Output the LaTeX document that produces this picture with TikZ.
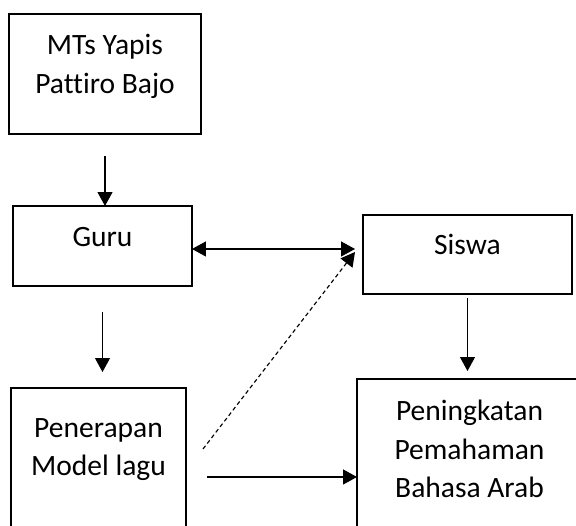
\documentclass[tikz,border=0pt]{standalone}
\usepackage{fontspec}
\setmainfont{Carlito}[Ligatures=CommonOff]
\usetikzlibrary{arrows.meta}

\begin{document}
\begin{tikzpicture}[x=0.02cm, y=-0.02cm, >={Triangle[length=0.28cm, width=0.3cm]},
	box/.style={draw, line width=1.1pt, inner sep=0pt, outer sep=0pt},
	lbl/.style={anchor=north, inner sep=0pt, align=center, font=\fontsize{16.8}{21.9}\selectfont},
	link/.style={->, line width=0.65pt}]
	% page, the lower boxes run off its edges
	\clip (0, 0) rectangle (576, 526);

	% boxes
	\node[box, minimum width=3.84cm, minimum height=2.4cm]  (mts)   at (105, 74)    {};
	\node[box, minimum width=3.58cm, minimum height=1.6cm]  (guru)  at (102.5, 246) {};
	\node[box, minimum width=4.18cm, minimum height=1.58cm] (siswa) at (467.5, 254.5) {};
	\node[box, minimum width=3.5cm,  minimum height=3.44cm] (pen)   at (98.5, 474)  {};
	\node[box, minimum width=4.5cm,  minimum height=3.92cm] (ping)  at (469.5, 477) {};

	% texts, hung from the top of each box
	\node[lbl] (mtsText)   at ([yshift=-0.4cm]mts.north)    {MTs Yapis\\Pattiro Bajo};
	\node[lbl] (guruText)  at ([yshift=-0.42cm]guru.north)  {Guru};
	\node[lbl] (siswaText) at ([yshift=-0.38cm]siswa.north) {Siswa};
	\node[lbl] (penText)   at ([yshift=-0.6cm]pen.north)    {Penerapan\\Model lagu};
	\node[lbl] (pingText)  at ([yshift=-0.42cm]ping.north)  {Peningkatan\\Pemahaman\\Bahasa Arab};

	% arrows
	\draw[link, shorten <=0.44cm] (mts.south) -- (mts.south |- guru.north);
	\draw[link, shorten <=0.52cm, shorten >=0.32cm] (guru.south) -- (guru.south |- pen.north);
	\draw[link, <->, shorten >=0.16cm] ([yshift=-0.06cm]guru.east) -- ([yshift=-0.06cm]guru.east -| siswa.west);
	\draw[link, shorten <=0.08cm, shorten >=0.16cm] (siswa.south) -- (siswa.south |- ping.north);
	\draw[link, shorten <=0.42cm] (pen.east |- ping.west) -- (ping.west);

	\coordinate (dashStart) at (203, 449);
	\draw[link, dash pattern=on 0.08cm off 0.06cm]
		(dashStart) -- ([xshift=-0.16cm, yshift=0.05cm]siswa.west);

\end{tikzpicture}
\end{document}
